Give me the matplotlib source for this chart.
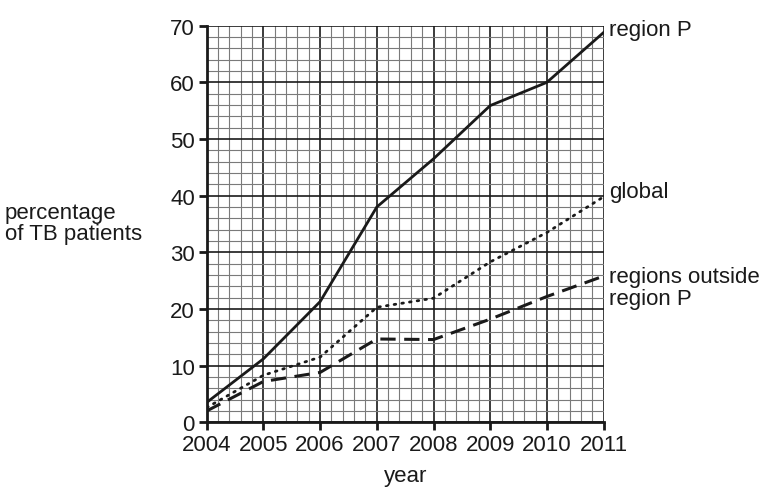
import matplotlib
matplotlib.use("Agg")
import matplotlib.pyplot as plt
from matplotlib.ticker import MultipleLocator

plt.rcParams['font.family'] = ['Liberation Sans', 'DejaVu Sans']

years = [2004, 2005, 2006, 2007, 2008, 2009, 2010, 2011]
region_p = [3.5, 11.2, 21.3, 38.0, 46.5, 55.9, 60.0, 68.8]
global_pct = [2.6, 8.3, 11.5, 20.3, 21.9, 28.3, 33.5, 39.8]
outside_p = [2.0, 7.2, 8.8, 14.7, 14.6, 18.2, 22.2, 25.8]

fig = plt.figure(figsize=(7.62, 4.89), dpi=100)
ax = fig.add_axes([0.2713, 0.1344, 0.5208, 0.811])

ax.set_xlim(2004, 2011)
ax.set_ylim(0, 70)
ax.xaxis.set_major_locator(MultipleLocator(1))
ax.xaxis.set_minor_locator(MultipleLocator(0.2))
ax.yaxis.set_major_locator(MultipleLocator(10))
ax.yaxis.set_minor_locator(MultipleLocator(2))

ax.grid(which='minor', color='#7a7a7a', linewidth=0.8)
ax.grid(which='major', color='#1a1a1a', linewidth=1.2)
ax.set_axisbelow(True)

ax.plot(years, region_p, color='#1a1a1a', linewidth=2.0, solid_joinstyle='miter', zorder=3)
ax.plot(years, global_pct, color='#1a1a1a', linewidth=2.0, linestyle=(0, (0.6, 2.2)),
        dash_capstyle='round', zorder=3)
ax.plot(years, outside_p, color='#1a1a1a', linewidth=2.2, linestyle=(0, (5, 2.8)), zorder=3)

for s in ['top', 'right']:
    ax.spines[s].set_visible(False)
for s in ['left', 'bottom']:
    ax.spines[s].set_linewidth(2.0)
    ax.spines[s].set_color('#1a1a1a')

ax.tick_params(which='major', direction='out', length=5.5, width=2, color='#1a1a1a',
               labelsize=16, labelcolor='#1a1a1a')
ax.tick_params(axis='x', which='major', pad=3)
ax.tick_params(axis='y', which='major', pad=3)
ax.tick_params(which='minor', length=0)

tk = dict(fontsize=16, color='#1a1a1a', va='center', ha='left', clip_on=False)
ax.text(2011.1, region_p[-1] + 0.5, 'region P', **tk)
ax.text(2011.1, global_pct[-1] + 1.0, 'global', **tk)
ax.text(2011.1, outside_p[-1] - 2, 'regions outside\nregion P', linespacing=1.05, **tk)

fig.text(5 / 762, 1 - 224 / 489, 'percentage\nof TB patients', fontsize=16, color='#1a1a1a',
         ha='left', va='center', linespacing=1.05)
fig.text(406 / 762, 1 - 477 / 489, 'year', fontsize=16, color='#1a1a1a', ha='center', va='center')

fig.savefig('out.png', dpi=100)
